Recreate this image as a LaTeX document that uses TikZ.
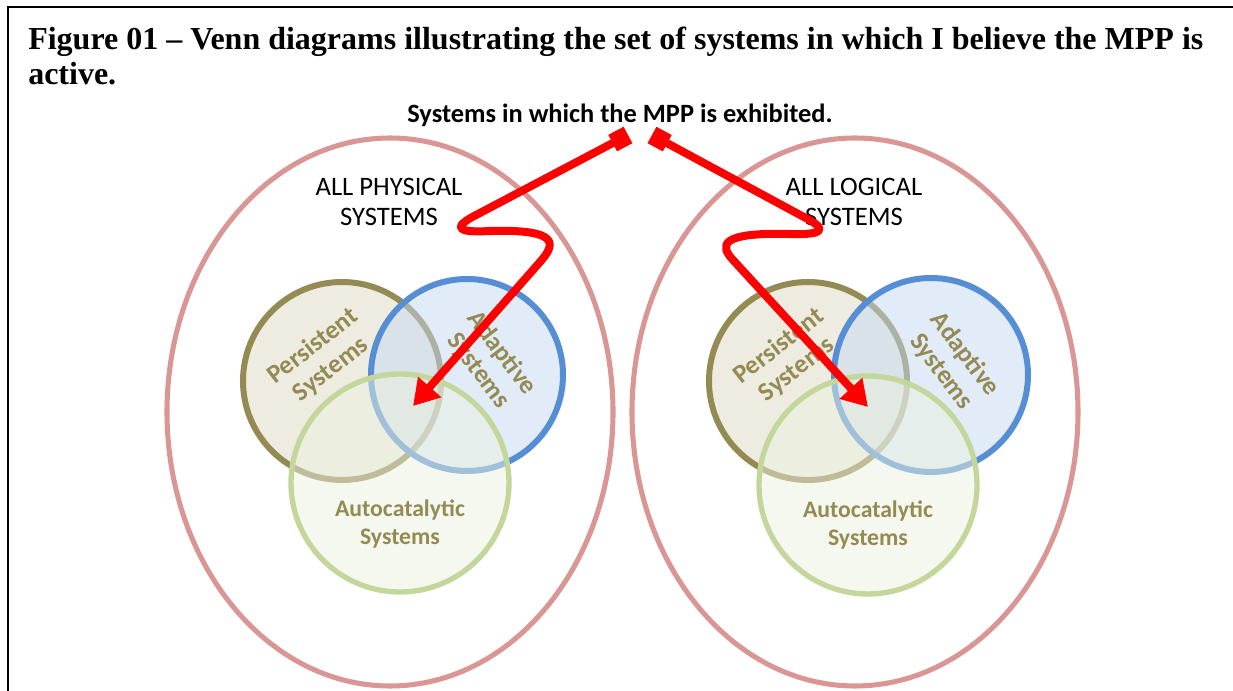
\documentclass[tikz,border=0pt]{standalone}
\usepackage{fontspec}
\setmainfont{Liberation Serif}
\newfontfamily\calibri{Carlito}
\usepackage{tikz}
\usetikzlibrary{arrows.meta}

\definecolor{ellred}{HTML}{D99694}
\definecolor{olivedk}{HTML}{948A54}
\definecolor{olivefl}{HTML}{DDD9C3}
\definecolor{bluedk}{HTML}{558ED5}
\definecolor{bluefl}{HTML}{C6D9F1}
\definecolor{greendk}{HTML}{C3D69B}
\definecolor{greenfl}{HTML}{EBF1DE}
\definecolor{mppred}{HTML}{FF0000}

\begin{document}
\begin{tikzpicture}[x=0.75pt,y=0.75pt,
  outer/.style={draw=ellred,line width=3.8pt},
  persist/.style={draw=olivedk,fill=olivefl,fill opacity=0.5,line width=4.5pt},
  adapt/.style={draw=bluedk,fill=bluefl,fill opacity=0.5,line width=4.5pt},
  autocat/.style={draw=greendk,fill=greenfl,fill opacity=0.5,line width=4pt},
  biglbl/.style={font=\calibri\fontsize{20}{23}\selectfont,align=center},
  setlbl/.style={font=\calibri\bfseries\fontsize{19.5}{22}\selectfont,text=olivedk,align=center},
  mpparrow/.style={draw=mppred,line width=6pt,line join=round,
    {Square[length=13pt,width=14pt]}-{Triangle[length=19pt,width=22pt]}}]
\useasboundingbox (0,0) rectangle (1233,-691);

% frame and caption
\draw[line width=1.5pt] (8,-691) -- (8,-7) -- (1233,-7);
\node[anchor=base west,align=left,inner sep=0pt,
  font=\bfseries\fontsize{24}{26.25}\selectfont] (title) at (28,-85)
  {Figure 01 – Venn diagrams illustrating the set of systems in which I believe the MPP is\\active.};
\node[anchor=base,inner sep=0pt,font=\calibri\bfseries\fontsize{19.8}{23}\selectfont] (mpp) at (620,-123)
  {Systems in which the MPP is exhibited.};

% left: physical
\draw[outer] (390,-412) ellipse [x radius=223,y radius=274];
\draw[persist] (342,-381) circle (99);
\draw[adapt] (467,-375) circle (96);
\draw[autocat] (400,-483) circle (109);
\node[biglbl] (phys) at (389,-202) {ALL PHYSICAL\\SYSTEMS};
\node[setlbl,rotate=38] (persL) at (322,-358) {Persistent\\Systems};
\node[setlbl,rotate=-53] (adaptL) at (490,-362) {Adaptive\\Systems};
\node[setlbl,font=\calibri\bfseries\fontsize{17.8}{21}\selectfont] (autoL) at (400,-524) {Autocatalytic\\Systems};

% right: logical
\draw[outer] (855,-412) ellipse [x radius=223,y radius=274];
\draw[persist] (808,-381) circle (99);
\draw[adapt] (931,-375) circle (97);
\draw[autocat] (868,-485) circle (109);
\node[biglbl] (logi) at (854,-202) {ALL LOGICAL\\SYSTEMS};
\node[setlbl,rotate=38] (persR) at (788,-358) {Persistent\\Systems};
\node[setlbl,rotate=-53] (adaptR) at (953,-363) {Adaptive\\Systems};
\node[setlbl,font=\calibri\bfseries\fontsize{17.8}{21}\selectfont] (autoR) at (868,-525) {Autocatalytic\\Systems};

% arrows
\coordinate (mppL) at (628,-135);
\coordinate (mppR) at (652,-135);
\coordinate (hitL) at (413,-406);
\coordinate (hitR) at (868,-407);
\draw[mpparrow] (mppL) -- (478,-214) .. controls (452,-227) and (455,-233) .. (490,-231)
  .. controls (560,-229) and (556,-244) .. (540,-262) -- (hitL);
\draw[mpparrow] (mppR) -- (802,-216) .. controls (828,-229) and (826,-235) .. (790,-234)
  .. controls (718,-232) and (720,-246) .. (733,-260) -- (hitR);
\end{tikzpicture}
\end{document}
